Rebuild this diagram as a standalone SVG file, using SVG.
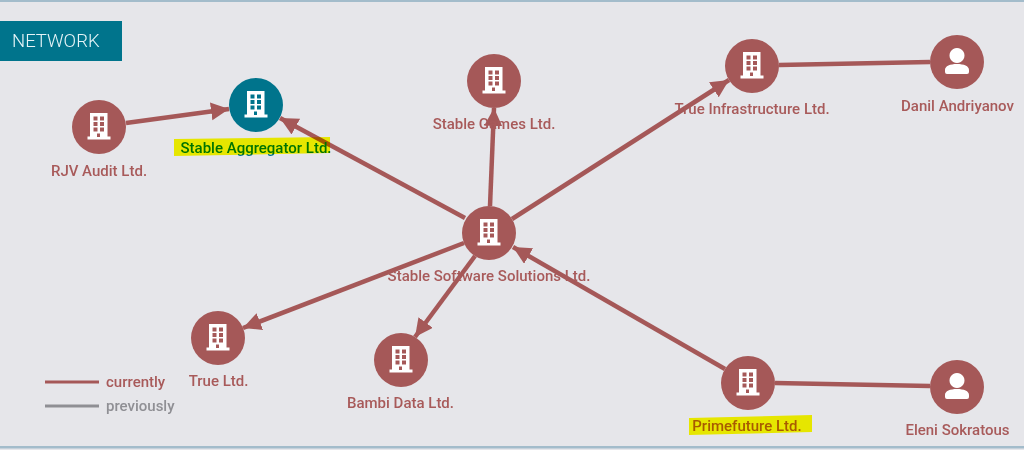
<svg xmlns="http://www.w3.org/2000/svg" width="1024" height="450" viewBox="0 0 1024 450">
<style>
.lbl{font-family:Roboto,"Liberation Sans",sans-serif;font-size:15px;font-weight:500;fill:#a85a5a;text-anchor:middle}
.c{fill:#a55858}
.t{fill:#00748c}
.e{stroke:#a55858;stroke-width:4.500;fill:none}
.ic{fill:#fff;fill-rule:evenodd}
.hl{fill:#ffff00;mix-blend-mode:multiply}
</style>
<defs>
<marker id="a" markerUnits="userSpaceOnUse" markerWidth="20" markerHeight="20" refX="18" refY="9" orient="auto"><path d="M0 0L18 9L0 18Z" fill="#a55858"/></marker>
<path id="bld" class="ic" d="M-9-14H8.500V9.500H11.500V12.500H-11.500V9.500H-9ZM-5.500-10.500V-6.500H-1.500V-10.500ZM1-10.500V-6.500H5V-10.500ZM-5.500-5V-1H-1.500V-5ZM1-5V-1H5V-5ZM-5.500 .5V4.500H-1.500V.5ZM1 .5V4.500H5V.5ZM-2 6.500V10H1V6.500Z"/>
<path id="per" class="ic" d="M0-14A7.500 7.500 0 1 1-.01-14ZM-12 12V8C-12 4-7 2 0 2S12 4 12 8V10Q12 12 10 12H-10Q-12 12-12 10Z"/>
</defs>
<rect width="1024" height="450" fill="#e6e6ea"/>
<rect width="1024" height="2" fill="#a3bccb"/>
<rect y="446" width="1024" height="2.500" fill="#a3bccb"/>
<g id="title"><rect y="21" width="122" height="40" fill="#00748c"/><text x="12" y="47" font-family="Roboto,'Liberation Sans',sans-serif" font-size="18.500" font-weight="300" fill="#e6f4f7">NETWORK</text></g>
<g id="connectors">
<path class="e" d="M126 123L229 109" marker-end="url(#a)"/>
<path class="e" d="M465 218L280 118" marker-end="url(#a)"/>
<path class="e" d="M490 206L494 108" marker-end="url(#a)"/>
<path class="e" d="M512 219L729 80" marker-end="url(#a)"/>
<path class="e" d="M464 243L243 328" marker-end="url(#a)"/>
<path class="e" d="M475 256L415 337" marker-end="url(#a)"/>
<path class="e" d="M725 369L513 247" marker-end="url(#a)"/>
<path class="e" d="M779 65L930 62"/>
<path class="e" d="M775 383L930 386"/>
</g>
<g id="rjv"><circle class="c" cx="99" cy="127" r="27"/><use href="#bld" x="99" y="127"/><text class="lbl" x="99" y="176">RJV Audit Ltd.</text></g>
<g id="aggregator"><circle class="t" cx="256" cy="105" r="27"/><use href="#bld" x="256" y="105"/><text class="lbl" x="256" y="153" style="fill:#00748c">Stable Aggregator Ltd.</text></g>
<g id="games"><circle class="c" cx="494" cy="81" r="27"/><use href="#bld" x="494" y="81"/><text class="lbl" x="494" y="129">Stable Games Ltd.</text></g>
<g id="software"><circle class="c" cx="489" cy="233" r="27"/><use href="#bld" x="489" y="233"/><text class="lbl" x="489" y="281">Stable Software Solutions Ltd.</text></g>
<g id="infra"><circle class="c" cx="752" cy="66" r="27"/><use href="#bld" x="752" y="66"/><text class="lbl" x="752" y="114">True Infrastructure Ltd.</text></g>
<g id="danil"><circle class="c" cx="957" cy="62" r="27"/><use href="#per" x="957" y="62"/><text class="lbl" x="957.500" y="111">Danil Andriyanov</text></g>
<g id="true"><circle class="c" cx="218" cy="338" r="27"/><use href="#bld" x="218" y="338"/><text class="lbl" x="218.500" y="386">True Ltd.</text></g>
<g id="bambi"><circle class="c" cx="401" cy="360" r="27"/><use href="#bld" x="401" y="360"/><text class="lbl" x="400.500" y="408">Bambi Data Ltd.</text></g>
<g id="prime"><circle class="c" cx="748" cy="383" r="27"/><use href="#bld" x="748" y="383"/><text class="lbl" x="747" y="431">Primefuture Ltd.</text></g>
<g id="eleni"><circle class="c" cx="957" cy="387" r="27"/><use href="#per" x="957" y="387"/><text class="lbl" x="957.500" y="435">Eleni Sokratous</text></g>
<g id="legend">
<path d="M45 382H99" stroke="#a55858" stroke-width="3"/>
<path d="M45 406H99" stroke="#8f8f94" stroke-width="3"/>
<text class="lbl" x="106" y="387" style="text-anchor:start">currently</text>
<text class="lbl" x="106" y="411" style="text-anchor:start;fill:#8f8f94">previously</text>
</g>
<g id="highlights">
<path class="hl" d="M174 139L330 137V153L174 156Z"/>
<path class="hl" d="M689 418L812 415V432L689 435Z"/>
</g>
</svg>
